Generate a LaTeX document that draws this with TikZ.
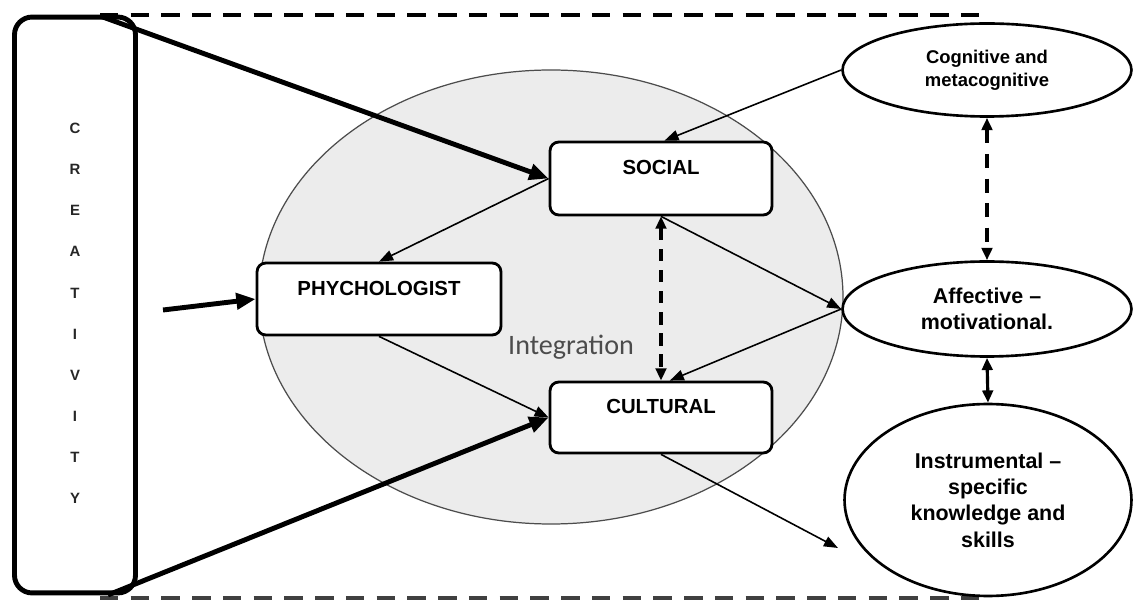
\documentclass[tikz,border=0pt]{standalone}
\usepackage{fontspec}
\setmainfont{Liberation Sans}
\newfontfamily\calibri{Carlito}
\usetikzlibrary{arrows.meta,shapes.geometric}

\begin{document}
\begin{tikzpicture}[x=0.02cm,y=-0.02cm,
  box/.style={draw,line width=1.6pt,rounded corners=5pt,fill=white,
    font=\fontsize{11.6}{14}\selectfont\bfseries,text height=8pt,text depth=12pt},
  oval/.style={draw,ellipse,line width=1.5pt,fill=white,inner sep=0pt,align=center,
    font=\fontsize{12.2}{15}\selectfont\bfseries},
  thin/.style={-{Triangle[length=8pt,width=6pt]},line width=0.9pt},
  fat/.style={-{Triangle[length=11pt,width=9pt]},line width=2.8pt},
  dbl/.style={{Triangle[length=7pt,width=6pt]}-{Triangle[length=7pt,width=6pt]},line width=1.8pt}]

\path[use as bounding box,fill=white] (0,0) rectangle (1134,601);

\draw[line width=2.4pt,dash pattern=on 10.5pt off 7pt] (100,15) -- (990,15);
\draw[line width=1.8pt,black!75,dash pattern=on 10.5pt off 7pt] (100,598) -- (985,598);

\draw[fill=gray!15,draw=gray!60!black,line width=0.7pt] (551,297) ellipse [x radius=292,y radius=227];

\node[draw,line width=2.8pt,rounded corners=10pt,minimum width=2.42cm,minimum height=11.52cm,
  label={[yshift=-4.8pt,align=center,text=black!85,font=\fontsize{8.5}{23.4}\selectfont\bfseries]center:{C\\R\\E\\A\\T\\I\\V\\I\\T\\Y}}]
  (crea) at (75,305) {};

\node[box,minimum width=4.44cm,minimum height=1.46cm] (social) at (661,178.5) {SOCIAL};
\node[box,minimum width=4.88cm,minimum height=1.44cm] (phych) at (379,299) {PHYCHOLOGIST};
\node[box,minimum width=4.44cm,minimum height=1.42cm] (cultural) at (661,417.5) {CULTURAL};

\node[font=\calibri\fontsize{16}{18}\selectfont,text=black!70] (integ) at (571,347) {Integration};

\node[oval,minimum width=5.78cm,minimum height=1.86cm,font=\fontsize{10.5}{13}\selectfont\bfseries]
  (cog) at (987,70) {Cognitive and\\metacognitive};
\node[oval,minimum width=5.78cm,minimum height=1.9cm] (aff) at (987,309) {Affective --\\motivational.};
\node[oval,minimum width=5.74cm,minimum height=3.84cm] (instr) at (988,500)
  {Instrumental --\\specific\\knowledge and\\skills};

\coordinate (ctop) at (100,16);
\coordinate (cbot) at (108,595);
\coordinate (cmid) at (163,310);
\coordinate (cend) at (838,548);

\draw[fat] (ctop) -- (social.west);
\draw[fat] (cbot) -- (cultural.west);
\draw[fat] (cmid) -- (phych.west);

\draw[thin] (cog.west) -- ([xshift=2pt]social.north);
\draw[thin] (social.west) -- (phych.north);
\draw[thin] (phych.south) -- (cultural.west);
\draw[thin] (social.south) -- (aff.west);
\draw[thin] (aff.west) -- ([xshift=5pt]cultural.north);
\draw[thin] (cultural.south) -- (cend);

\draw[dbl,dash pattern=on 7pt off 5pt] (social.south) -- (cultural.north);
\draw[dbl,line width=2.2pt,dash pattern=on 8pt off 6pt] (cog.south) -- (aff.north);
\draw[dbl] (aff.south) -- (instr.north);

\end{tikzpicture}
\end{document}
